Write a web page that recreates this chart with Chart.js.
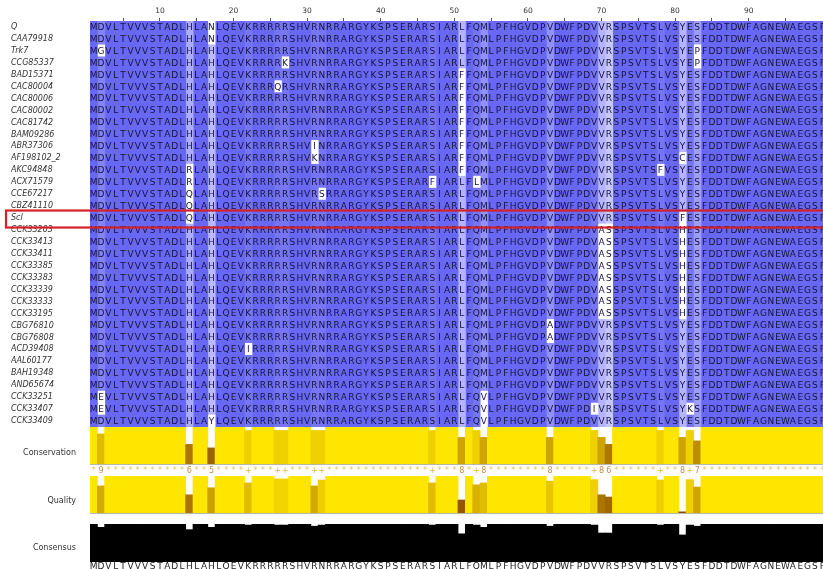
<!DOCTYPE html>
<html>
<head>
<meta charset="utf-8">
<script src="https://cdn.jsdelivr.net/npm/chart.js"></script>
<style>
  body { margin: 0; background: #fff; }
  #wrap { position: relative; width: 823px; height: 569px; overflow: hidden; }
  .box { position: absolute; left: 0; width: 826px; }
</style>
</head>
<body>
<div id="wrap">
  <div class="box" style="top:0;height:427px"><canvas id="aln"></canvas></div>
  <div class="box" style="top:427px;height:49px"><canvas id="cons"></canvas></div>
  <div class="box" style="top:476px;height:46px"><canvas id="qual"></canvas></div>
  <div class="box" style="top:522px;height:47px"><canvas id="consensus"></canvas></div>
</div>
<script>
const seqNames = ['Q', 'CAA79918', 'Trk7', 'CCG85337', 'BAD15371', 'CAC80004', 'CAC80006', 'CAC80002',
  'CAC81742', 'BAM09286', 'ABR37306', 'AF198102_2', 'AKC94848', 'ACX71579', 'CCE67217', 'CBZ41110',
  'Scl', 'CCK33203', 'CCK33413', 'CCK33411', 'CCK33385', 'CCK33383', 'CCK33339', 'CCK33333',
  'CCK33195', 'CBG76810', 'CBG76808', 'ACD39408', 'AAL60177', 'BAH19348', 'AND65674', 'CCK33251',
  'CCK33407', 'CCK33409'];

// consensus line shown under the annotations
const consensusSeq = 'MDVLTVVVSTADLHLAHLQEVKRRRRRSHVRNRRARGYKSPSERARSIARLFQMLPFHGVDPVDWFPDVVRSPSVTSLVSYESFDDTDWFAGNEWAEGSF';

// residues that differ from the consensus, per sequence: [position, residue]
const substitutions = [
  [[17, 'N']],
  [[17, 'N']],
  [[2, 'G'], [83, 'P']],
  [[27, 'K'], [83, 'P']],
  [[51, 'F']],
  [[26, 'Q'], [51, 'F']],
  [[51, 'F']],
  [[51, 'F']],
  [[51, 'F']],
  [[51, 'F']],
  [[31, 'I'], [51, 'F']],
  [[31, 'K'], [51, 'F'], [81, 'C']],
  [[14, 'R'], [51, 'F'], [78, 'F']],
  [[14, 'R'], [47, 'F'], [53, 'L']],
  [[14, 'Q'], [32, 'S']],
  [[14, 'Q']],
  [[14, 'Q'], [81, 'F']],
  [[70, 'A'], [71, 'S'], [81, 'H']],
  [[70, 'A'], [71, 'S'], [81, 'H']],
  [[70, 'A'], [71, 'S'], [81, 'H']],
  [[70, 'A'], [71, 'S'], [81, 'H']],
  [[70, 'A'], [71, 'S'], [81, 'H']],
  [[70, 'A'], [71, 'S'], [81, 'H']],
  [[70, 'A'], [71, 'S'], [81, 'H']],
  [[70, 'A'], [71, 'S'], [81, 'H']],
  [[63, 'A']],
  [[63, 'A']],
  [[22, 'I']],
  [],
  [],
  [],
  [[2, 'E'], [54, 'V']],
  [[2, 'E'], [54, 'V'], [69, 'I'], [82, 'K']],
  [[17, 'Y'], [54, 'V']]
];

const conservation = [
  11, 9, 11, 11, 11, 11, 11, 11, 11, 11,
  11, 11, 11, 6, 11, 11, 5, 11, 11, 11,
  11, 10, 11, 11, 11, 10, 10, 11, 11, 11,
  10, 10, 11, 11, 11, 11, 11, 11, 11, 11,
  11, 11, 11, 11, 11, 11, 10, 11, 11, 11,
  8, 11, 10, 8, 11, 11, 11, 11, 11, 11,
  11, 11, 8, 11, 11, 11, 11, 11, 10, 8,
  6, 11, 11, 11, 11, 11, 11, 10, 11, 11,
  8, 10, 7, 11, 11, 11, 11, 11, 11, 11,
  11, 11, 11, 11, 11, 11, 11, 11, 11, 11];

const quality = [
  100, 73, 100, 100, 100, 100, 100, 100, 100, 100,
  100, 100, 100, 49, 100, 100, 68, 100, 100, 100,
  100, 81, 100, 100, 100, 92, 92, 100, 100, 100,
  73, 89, 100, 100, 100, 100, 100, 100, 100, 100,
  100, 100, 100, 100, 100, 100, 81, 100, 100, 100,
  35, 100, 76, 81, 100, 100, 100, 100, 100, 100,
  100, 100, 86, 100, 100, 100, 100, 100, 90, 49,
  43, 100, 100, 100, 100, 100, 100, 89, 100, 100,
  3, 90, 70, 100, 100, 100, 100, 100, 100, 100,
  100, 100, 100, 100, 100, 100, 100, 100, 100, 100];

const consensusPct = [
  100, 91, 100, 100, 100, 100, 100, 100, 100, 100,
  100, 100, 100, 85, 100, 100, 91, 100, 100, 100,
  100, 97, 100, 100, 100, 97, 97, 100, 100, 100,
  94, 97, 100, 100, 100, 100, 100, 100, 100, 100,
  100, 100, 100, 100, 100, 100, 97, 100, 100, 100,
  74, 100, 97, 91, 100, 100, 100, 100, 100, 100,
  100, 100, 94, 100, 100, 100, 100, 100, 97, 76,
  76, 100, 100, 100, 100, 100, 100, 97, 100, 100,
  71, 97, 94, 100, 100, 100, 100, 100, 100, 100,
  100, 100, 100, 100, 100, 100, 100, 100, 100, 100];

const rulerTicks = [5, 10, 15, 20, 25, 30, 35, 40, 45, 50, 55, 60, 65, 70, 75, 80, 85, 90, 95];
const positions = consensusSeq.split('').map((_, i) => i + 1);

const sequences = seqNames.map((n, r) => {
  const s = consensusSeq.split('');
  substitutions[r].forEach(([p, a]) => { s[p - 1] = a; });
  return s.join('');
});

Chart.defaults.font.family = '"DejaVu Sans", sans-serif';
Chart.defaults.animation = false;
Chart.defaults.plugins.legend.display = false;
Chart.defaults.plugins.tooltip.enabled = false;

function mix(a, b, t) {
  return 'rgb(' + a.map((v, i) => Math.round(v + (b[i] - v) * t)).join(',') + ')';
}
const brown = [140, 75, 0], yellow = [255, 230, 0];

function cellColor(r, c) {
  if (sequences[r][c] !== consensusSeq[c]) return '#ffffff';
  const base = consensusPct[c] > 80 ? [104, 104, 244] : [153, 153, 255];
  return mix(base, [255, 255, 255], (11 - conservation[c]) * 0.09);
}

// no extra room for tick labels, the areas are placed by hand
function noPad(s) {
  s.paddingTop = 0; s.paddingBottom = 0; s.paddingLeft = 0; s.paddingRight = 0;
}

// residue letters on top of the cells
const letters = {
  id: 'letters',
  afterDatasetsDraw(chart) {
    const ctx = chart.ctx;
    ctx.save();
    ctx.font = '9px "DejaVu Sans"';
    ctx.fillStyle = '#14143a';
    ctx.textAlign = 'center';
    ctx.textBaseline = 'middle';
    chart.data.datasets.forEach((ds, c) => {
      chart.getDatasetMeta(c).data.forEach((bar, r) => {
        ctx.fillText(sequences[r][c], (bar.x + bar.base) / 2, bar.y + 0.5);
      });
    });
    ctx.restore();
  },
  afterDraw(chart) {
    // red box round the Scl row
    const ctx = chart.ctx;
    const y = chart.scales.y.getPixelForValue(seqNames.indexOf('Scl'));
    ctx.save();
    ctx.strokeStyle = '#d42026';
    ctx.lineWidth = 2.2;
    ctx.strokeRect(6, y - 7.5, 840, 17);
    ctx.restore();
  }
};

new Chart(document.getElementById('aln'), {
  type: 'bar',
  data: {
    labels: seqNames,
    datasets: positions.map((p, c) => ({
      label: 'pos ' + p,
      data: seqNames.map(() => 1),
      backgroundColor: ctx => cellColor(ctx.dataIndex, c),
      borderWidth: 0,
      inflateAmount: 0.4,
      barPercentage: 1,
      categoryPercentage: 1
    }))
  },
  options: {
    indexAxis: 'y',
    responsive: true,
    maintainAspectRatio: false,
    devicePixelRatio: 1,
    layout: { padding: { left: 11, top: 0, right: 0, bottom: 0 } },
    scales: {
      x: {
        type: 'linear', position: 'top', stacked: true, min: 0, max: positions.length,
        afterBuildTicks: s => { s.ticks = rulerTicks.map(v => ({ value: v - 0.5 })); },
        ticks: {
          autoSkip: false, maxRotation: 0, padding: 2, color: '#333', font: { size: 7.5 },
          callback: v => { const p = Math.round(v + 0.5); return p % 10 === 0 ? String(p) : ''; }
        },
        grid: { drawOnChartArea: false, drawTicks: true, tickLength: 3, color: '#555' },
        border: { display: false },
        afterFit: s => { s.height = 21; noPad(s); }
      },
      y: {
        stacked: true,
        ticks: { crossAlign: 'far', autoSkip: false, padding: 0, color: '#333', font: { size: 8, style: 'italic' } },
        grid: { display: false },
        border: { display: false },
        afterFit: s => { s.width = 79; noPad(s); }
      }
    }
  },
  plugins: [letters]
});

// annotation rows
const baseline = {
  id: 'baseline',
  afterDatasetsDraw(chart, args, opts) {
    if (!opts.on) return;
    const { ctx, chartArea: a } = chart;
    ctx.save();
    ctx.strokeStyle = '#b8b8a8';
    ctx.lineWidth = 1;
    ctx.beginPath();
    ctx.moveTo(a.left, a.bottom + 0.5);
    ctx.lineTo(a.right, a.bottom + 0.5);
    ctx.stroke();
    ctx.restore();
  }
};

const symbols = {
  id: 'symbols',
  afterDraw(chart) {
    const { ctx, chartArea: a } = chart;
    ctx.save();
    ctx.font = '8px "DejaVu Sans"';
    ctx.textAlign = 'center';
    ctx.textBaseline = 'middle';
    chart.getDatasetMeta(0).data.forEach((bar, i) => {
      const v = conservation[i];
      ctx.fillStyle = v === 11 ? '#f0c050' : (v === 10 ? '#e6b440' : '#c98c48');
      ctx.fillText(v === 11 ? '*' : (v === 10 ? '+' : String(v)), bar.x, a.bottom + 6.5);
    });
    ctx.restore();
  }
};

const bottomText = {
  id: 'bottomText',
  afterDraw(chart) {
    const ctx = chart.ctx;
    ctx.save();
    ctx.font = '9px "DejaVu Sans"';
    ctx.fillStyle = '#222';
    ctx.textAlign = 'center';
    ctx.textBaseline = 'top';
    chart.getDatasetMeta(0).data.forEach((bar, i) => {
      ctx.fillText(consensusSeq[i], bar.x, chart.chartArea.bottom + 0.5);
    });
    ctx.restore();
  }
};

function annotation(id, values, colors, yMin, yMax, label, labelAt, padding, line, extra) {
  return new Chart(document.getElementById(id), {
    type: 'bar',
    data: {
      labels: positions,
      datasets: [{
        data: values, backgroundColor: colors, borderWidth: 0, inflateAmount: 0.4,
        barPercentage: 1, categoryPercentage: 1
      }]
    },
    options: {
      responsive: true,
      maintainAspectRatio: false,
      devicePixelRatio: 1,
      layout: { padding: padding },
      plugins: { baseline: { on: line } },
      scales: {
        x: { type: 'category', display: false },
        y: {
          min: yMin, max: yMax,
          afterBuildTicks: s => { s.ticks = [{ value: labelAt }]; },
          ticks: { callback: () => label, color: '#333', font: { size: 8 }, padding: 6 },
          grid: { display: false },
          border: { display: false },
          afterFit: s => { s.width = 90; noPad(s); }
        }
      }
    },
    plugins: [baseline].concat(extra)
  });
}

annotation('cons', conservation, conservation.map(v => mix(brown, yellow, Math.max(0, (v - 4) / 7))),
  0.4, 11, 'Conservation', 3.6, { top: 0, bottom: 12, left: 0, right: 0 }, true, [symbols]);

annotation('qual', quality, quality.map(q => mix(brown, yellow, Math.min(1, Math.max(0, (q - 30) / 70)))),
  0, 100, 'Quality', 32, { top: 0, bottom: 9, left: 0, right: 0 }, true, []);

annotation('consensus', consensusPct, '#000000',
  0, 100, 'Consensus', 36, { top: 2, bottom: 7, left: 0, right: 0 }, false, [bottomText]);
</script>
</body>
</html>
